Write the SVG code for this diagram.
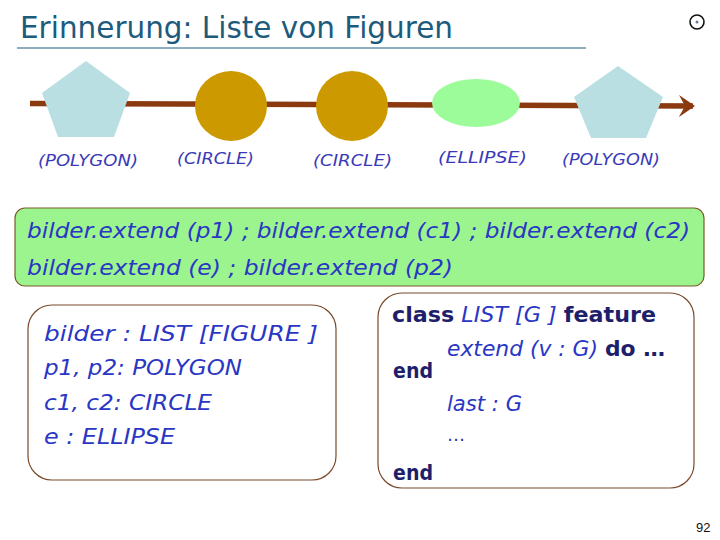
<svg xmlns="http://www.w3.org/2000/svg" width="720" height="540" viewBox="0 0 720 540">
<style>
.title{font-family:"DejaVu Sans",sans-serif;font-size:31px;fill:#1d5b7c}
.lbl{font-family:"DejaVu Sans",sans-serif;font-size:16px;fill:#3a3ab8;font-style:italic}
.code{font-family:"DejaVu Sans",sans-serif;font-size:21px;fill:#2a36c4;font-style:italic}
.kw{font-family:"DejaVu Sans",sans-serif;font-size:21px;fill:#1e1e6a;font-weight:bold;font-style:normal}
.box{fill:#ffffff;stroke:#7a4a2a;stroke-width:1.2}
.poly{fill:#b9dfe3}
.circ{fill:#cc9900}
</style>
<defs>
<marker id="ah" markerUnits="userSpaceOnUse" markerWidth="20" markerHeight="24" refX="14" refY="12" orient="auto">
<path d="M0,1 L16,12 L0,23 L6,12 z" fill="#8b3a0f"/>
</marker>
</defs>
<rect width="720" height="540" fill="#ffffff"/>
<g id="title">
<text class="title" x="20" y="38" textLength="433" lengthAdjust="spacingAndGlyphs">Erinnerung: Liste von Figuren</text>
<line x1="17" y1="48" x2="586" y2="48" stroke="#1d5b7c" stroke-width="1"/>
</g>
<g id="icon">
<circle cx="697" cy="22" r="7" fill="#ffffff" stroke="#111111" stroke-width="1.6"/>
<circle cx="697" cy="22" r="1.5" fill="#6a7a9a"/>
</g>
<g id="connectors">
<path d="M30,103.5 L693,106" stroke="#8b3a0f" stroke-width="5.5" fill="none" marker-end="url(#ah)"/>
</g>
<g id="polygon1">
<polygon class="poly" points="86,61 130,93 114,137 58,137 42,93"/>
<text class="lbl" x="38" y="166" textLength="100" lengthAdjust="spacingAndGlyphs">(POLYGON)</text>
</g>
<g id="circle1">
<ellipse class="circ" cx="231" cy="106" rx="36" ry="35"/>
<text class="lbl" x="177" y="164" textLength="77" lengthAdjust="spacingAndGlyphs">(CIRCLE)</text>
</g>
<g id="circle2">
<ellipse class="circ" cx="352" cy="106" rx="36" ry="35"/>
<text class="lbl" x="313" y="166" textLength="79" lengthAdjust="spacingAndGlyphs">(CIRCLE)</text>
</g>
<g id="ellipse">
<ellipse cx="476" cy="103" rx="44" ry="24" fill="#9cfc9a"/>
<text class="lbl" x="438" y="163" textLength="89" lengthAdjust="spacingAndGlyphs">(ELLIPSE)</text>
</g>
<g id="polygon2">
<polygon class="poly" points="618,66 663,97 646,138 591,138 574,97"/>
<text class="lbl" x="562" y="165" textLength="98" lengthAdjust="spacingAndGlyphs">(POLYGON)</text>
</g>
<g id="calls">
<rect x="15" y="208" width="689" height="78" rx="10" fill="#9cf48e" stroke="#7a5a2a" stroke-width="1.2"/>
<text class="code" x="27" y="238" textLength="663" lengthAdjust="spacingAndGlyphs">bilder.extend (p1) ; bilder.extend (c1) ; bilder.extend (c2)</text>
<text class="code" x="27" y="275" textLength="426" lengthAdjust="spacingAndGlyphs">bilder.extend (e) ; bilder.extend (p2)</text>
</g>
<g id="declarations">
<rect class="box" x="28" y="305" width="308" height="175" rx="24"/>
<text class="code" x="44" y="341" textLength="274" lengthAdjust="spacingAndGlyphs">bilder : LIST  [FIGURE ]</text>
<text class="code" x="44" y="375" textLength="198" lengthAdjust="spacingAndGlyphs">p1, p2: POLYGON</text>
<text class="code" x="44" y="410" textLength="168" lengthAdjust="spacingAndGlyphs">c1, c2: CIRCLE</text>
<text class="code" x="44" y="444" textLength="131" lengthAdjust="spacingAndGlyphs">e : ELLIPSE</text>
</g>
<g id="classdef">
<rect class="box" x="378" y="293" width="316" height="195" rx="24"/>
<text class="code" x="392" y="322" textLength="264" lengthAdjust="spacingAndGlyphs"><tspan class="kw">class</tspan> LIST [G ] <tspan class="kw">feature</tspan></text>
<text class="code" x="447" y="356" textLength="218" lengthAdjust="spacingAndGlyphs">extend (v : G) <tspan class="kw">do …</tspan></text>
<text class="kw" x="393" y="378" textLength="40" lengthAdjust="spacingAndGlyphs">end</text>
<text class="code" x="447" y="411" textLength="75" lengthAdjust="spacingAndGlyphs">last : G</text>
<text class="code" x="447" y="441" style="font-style:normal;font-size:18px">…</text>
<text class="kw" x="393" y="480" textLength="40" lengthAdjust="spacingAndGlyphs">end</text>
</g>
<g id="pagenum">
<text x="696" y="532" font-family="Liberation Sans, sans-serif" font-size="13" fill="#111111">92</text>
</g>
</svg>
